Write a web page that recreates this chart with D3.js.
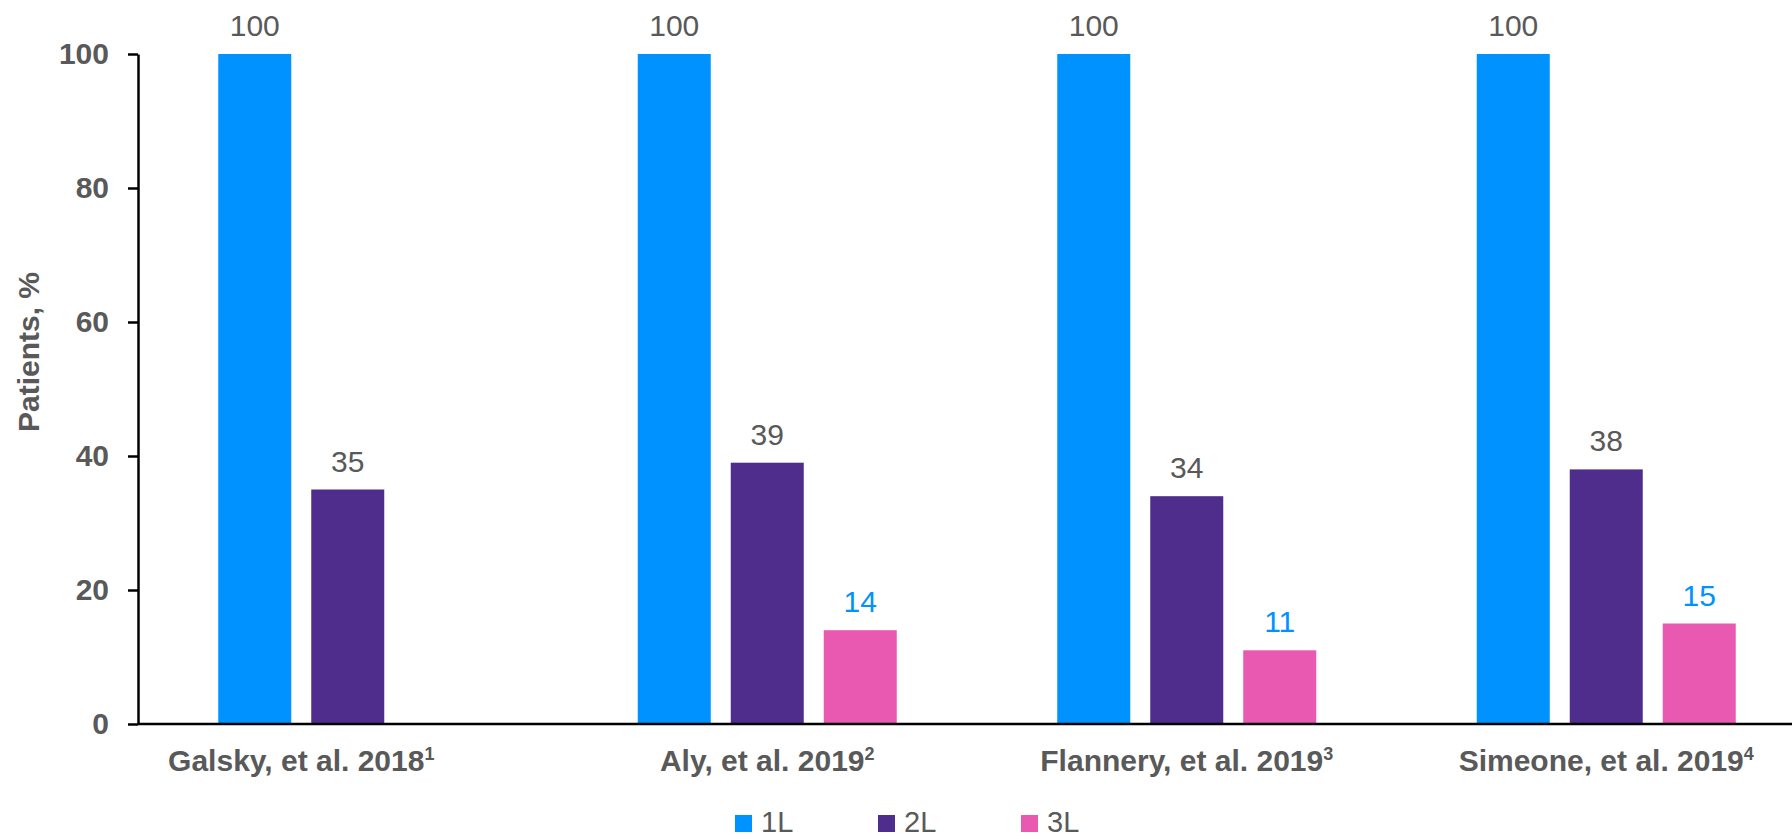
<!DOCTYPE html>
<html>
<head>
<meta charset="utf-8">
<script src="https://cdn.jsdelivr.net/npm/d3@7"></script>
<style>
  body { margin: 0; background: #fff; }
  svg { display: block; font-family: "Liberation Sans", Arial, sans-serif; }
</style>
</head>
<body>
<div id="chart"></div>
<script>
// data
var studies = ["Galsky, et al. 2018", "Aly, et al. 2019", "Flannery, et al. 2019", "Simeone, et al. 2019"];
var refs = ["1", "2", "3", "4"];
var series = ["1L", "2L", "3L"];
var values1L = [100, 100, 100, 100];
var values2L = [35, 39, 34, 38];
var values3L = [null, 14, 11, 15];
var yTicks = [0, 20, 40, 60, 80, 100];

var width = 1792, height = 839;
var grey = "#595959";
var colors = { "1L": "#0092FF", "2L": "#4E2D8C", "3L": "#E958B1" };
var labelColors = { "1L": grey, "2L": grey, "3L": "#0092FF" };

var seriesValues = { "1L": values1L, "2L": values2L, "3L": values3L };

var svg = d3.select("#chart")
    .append("svg")
    .attr("width", width)
    .attr("height", height);

// scales
var y = d3.scaleLinear().domain([0, 100]).range([724, 54]);
var x0 = d3.scaleBand().domain(studies).range([138, 1816]).padding(0);
var x1 = d3.scaleBand().domain(series).range([0, x0.bandwidth()])
    .paddingInner(0.215).paddingOuter(0.863);

// build rows: one per study, with the bars that have a value
var rows = studies.map(function(s, i) {
    var bars = series
        .filter(function(k) { return seriesValues[k][i] != null; })
        .map(function(k) { return { study: s, key: k, value: seriesValues[k][i] }; });
    return { study: s, ref: refs[i], bars: bars };
});

// bars
var groups = svg.selectAll("g.group")
    .data(rows)
    .enter()
    .append("g")
    .attr("class", "group")
    .attr("transform", function(d) { return "translate(" + x0(d.study) + ",0)"; });

groups.selectAll("rect")
    .data(function(d) { return d.bars; })
    .enter()
    .append("rect")
    .attr("x", function(d) { return x1(d.key); })
    .attr("y", function(d) { return y(d.value); })
    .attr("width", x1.bandwidth())
    .attr("height", function(d) { return y(0) - y(d.value); })
    .attr("fill", function(d) { return colors[d.key]; });

// value labels
groups.selectAll("text.val")
    .data(function(d) { return d.bars; })
    .enter()
    .append("text")
    .attr("class", "val")
    .attr("x", function(d) { return x1(d.key) + x1.bandwidth() / 2; })
    .attr("y", function(d) { return y(d.value) - 18; })
    .attr("text-anchor", "middle")
    .style("font-size", "30px")
    .attr("fill", function(d) { return labelColors[d.key]; })
    .text(function(d) { return d.value; });

// y axis
var yAxis = svg.append("g")
    .attr("transform", "translate(138,0)")
    .call(d3.axisLeft(y).tickValues(yTicks).tickSize(10).tickSizeOuter(0).tickPadding(19));
yAxis.select(".domain").attr("stroke", "#000").attr("stroke-width", 2.5);
yAxis.selectAll(".tick line").attr("stroke", "#000").attr("stroke-width", 2.5);
yAxis.selectAll(".tick text")
    .attr("fill", grey)
    .style("font-size", "30px")
    .style("font-weight", "bold")
    .style("font-family", "'Liberation Sans', Arial, sans-serif");

// x axis line
svg.append("line")
    .attr("x1", x0.range()[0]).attr("x2", x0.range()[1])
    .attr("y1", y(0)).attr("y2", y(0))
    .attr("stroke", "#000")
    .attr("stroke-width", 2.5);

// category labels, centred under the bars that exist
var xl = svg.selectAll("text.cat")
    .data(rows)
    .enter()
    .append("text")
    .attr("class", "cat")
    .attr("x", function(d) {
        var first = d.bars[0].key, last = d.bars[d.bars.length - 1].key;
        return x0(d.study) + (x1(first) + x1(last) + x1.bandwidth()) / 2;
    })
    .attr("y", 771)
    .attr("text-anchor", "middle")
    .attr("fill", grey)
    .style("font-size", "30px")
    .style("font-weight", "bold");
xl.append("tspan").text(function(d) { return d.study; });
xl.append("tspan")
    .attr("dy", -11)
    .style("font-size", "18px")
    .text(function(d) { return d.ref; });

// y axis title
svg.append("text")
    .attr("transform", "translate(39,352) rotate(-90)")
    .attr("text-anchor", "middle")
    .attr("fill", grey)
    .style("font-size", "30px")
    .style("font-weight", "bold")
    .text("Patients, %");

// legend (nudged up a little so the text is not clipped by the bottom edge)
var legend = svg.selectAll("g.legend")
    .data(series)
    .enter()
    .append("g")
    .attr("class", "legend")
    .attr("transform", function(d, i) { return "translate(" + (735 + i * 143) + ",815)"; });
legend.append("rect")
    .attr("width", 17)
    .attr("height", 17)
    .attr("fill", function(d) { return colors[d]; });
legend.append("text")
    .attr("x", 26)
    .attr("y", 17)
    .attr("fill", grey)
    .style("font-size", "29px")
    .text(function(d) { return d; });
</script>
</body>
</html>
